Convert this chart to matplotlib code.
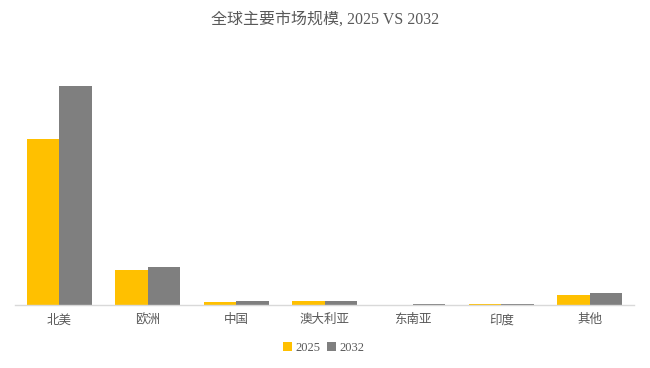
import matplotlib
matplotlib.use("Agg")
import matplotlib.pyplot as plt
import numpy as np

categories = ["北美", "欧洲", "中国", "澳大利亚", "东南亚", "印度", "其他"]
series_names = ["2025", "2032"]
values_2025 = [166.3, 35.0, 3.0, 4.3, 0.3, 1.0, 9.7]
values_2032 = [219.3, 38.0, 4.0, 4.0, 1.0, 1.0, 12.0]
colors = ["#FFC000", "#7F7F7F"]

plt.rcParams['font.family'] = ['Liberation Serif', 'Noto Sans CJK SC', 'DejaVu Sans']

fig = plt.figure(figsize=(6.5, 3.68), dpi=100)
ax = fig.add_axes([15/650, 63/368, 619/650, 245/368])

x = np.arange(len(categories))
w = 0.367
ax.bar(x - w/2, values_2025, width=w, color=colors[0], label=series_names[0])
ax.bar(x + w/2, values_2032, width=w, color=colors[1], label=series_names[1])

ax.set_xlim(-0.5, len(categories) - 0.5)
ax.set_ylim(0, 245)
ax.set_yticks([])
for s in ["top", "right", "left"]:
    ax.spines[s].set_visible(False)
ax.spines["bottom"].set_color("#D9D9D9")
ax.spines["bottom"].set_linewidth(1)
ax.set_xticks(x)
ax.set_xticklabels(categories, family=['Noto Sans CJK SC'], fontsize=9, color="#595959")
ax.tick_params(axis='x', length=0, pad=6)

fig.text(325/650, 1 - 20/368, "全球主要市场规模, 2025 VS 2032", ha="center", va="center",
         fontsize=11.5, color="#595959")

leg = fig.legend(loc="center", bbox_to_anchor=(324/650, 1 - 348/368), ncol=2, frameon=False,
                 fontsize=9, handlelength=0.7, handleheight=0.7, handletextpad=0.3,
                 columnspacing=0.5, labelcolor="#595959")

fig.savefig("out.png", dpi=100, facecolor="white")
